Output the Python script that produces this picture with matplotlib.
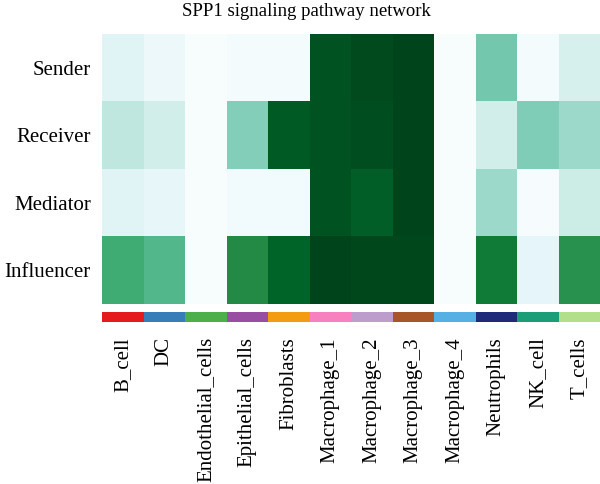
import matplotlib
matplotlib.use('Agg')
import matplotlib.pyplot as plt
import numpy as np
from matplotlib.colors import ListedColormap

cell_types = ["B_cell", "DC", "Endothelial_cells", "Epithelial_cells", "Fibroblasts",
              "Macrophage_1", "Macrophage_2", "Macrophage_3", "Macrophage_4",
              "Neutrophils", "NK_cell", "T_cells"]
roles = ["Sender", "Receiver", "Mediator", "Influencer"]

sender = [0.15, 0.08, 0.0, 0.02, 0.02, 0.95, 0.98, 1.0, 0.0, 0.47, 0.02, 0.20]
receiver = [0.28, 0.22, 0.0, 0.43, 0.93, 0.95, 0.97, 1.0, 0.0, 0.22, 0.44, 0.37]
mediator = [0.15, 0.11, 0.0, 0.04, 0.04, 0.95, 0.92, 1.0, 0.0, 0.37, 0.01, 0.25]
influencer = [0.63, 0.57, 0.0, 0.75, 0.90, 1.0, 0.99, 0.99, 0.0, 0.82, 0.12, 0.73]

group_colors = ["#e41a1c", "#377eb8", "#4daf4a", "#984ea3", "#f39c12", "#f781bf",
                "#bc9dcc", "#a65628", "#56b0e3", "#1f2a78", "#1b9e77", "#b2df8a"]

plt.rcParams['font.family'] = ['Liberation Serif', 'DejaVu Serif']

mat = np.array([sender, receiver, mediator, influencer])

fig = plt.figure(figsize=(6.0, 4.84), dpi=100)
ax = fig.add_axes([0.17, 0.372, 0.83, 0.558])
ax.pcolormesh(mat, cmap="BuGn", vmin=0, vmax=1, edgecolors="none")
ax.set_xlim(0, len(cell_types))
ax.set_ylim(len(roles), 0)
ax.set_yticks(np.arange(len(roles)) + 0.5)
ax.set_yticklabels(roles, fontsize=15)
ax.set_xticks([])
ax.tick_params(axis="y", length=0, pad=8)
for s in ax.spines.values():
    s.set_visible(False)
fig.text(0.51, 0.993, "SPP1 signaling pathway network", fontsize=13.5,
         ha="center", va="top")

bar = fig.add_axes([0.17, 0.335, 0.83, 0.021])
bar.pcolormesh(np.arange(len(cell_types))[None, :], cmap=ListedColormap(group_colors),
               vmin=-0.5, vmax=len(cell_types) - 0.5)
bar.set_xlim(0, len(cell_types))
bar.set_yticks([])
bar.set_xticks(np.arange(len(cell_types)) + 0.5)
bar.set_xticklabels(cell_types, rotation=90, fontsize=15)
bar.tick_params(axis="x", length=0, pad=11)
for s in bar.spines.values():
    s.set_visible(False)

fig.savefig("out.png", dpi=100)
